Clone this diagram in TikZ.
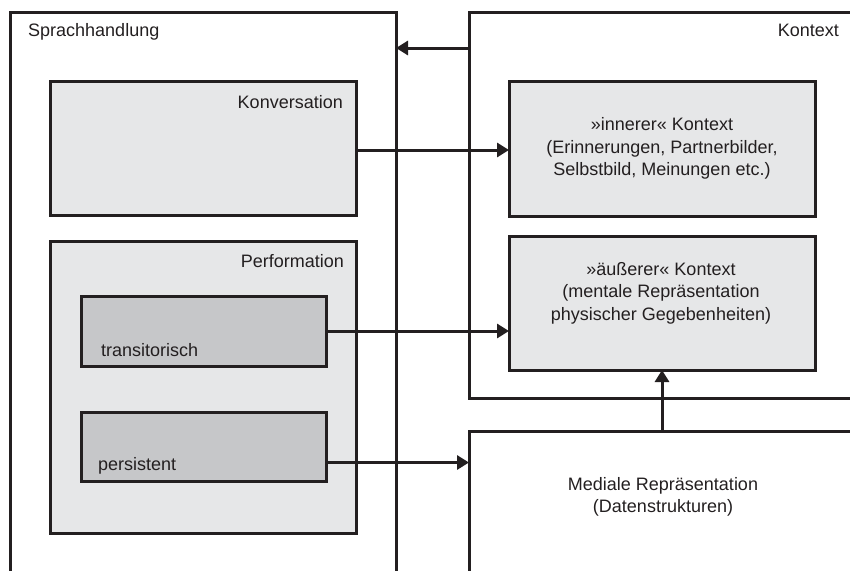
\documentclass[tikz,border=0pt]{standalone}
\usepackage{fontspec}
\setmainfont{Liberation Sans}
\usetikzlibrary{arrows.meta}
\definecolor{linegray}{HTML}{231F20}
\definecolor{lightfill}{HTML}{E6E7E8}
\definecolor{darkfill}{HTML}{C6C7C9}
\begin{document}
\begin{tikzpicture}[x=1pt,y=-1pt,
    box/.style={draw=linegray,line width=3pt,anchor=north west,inner sep=0pt,outer sep=0pt},
    txt/.style={text=linegray,font=\fontsize{18}{22.5}\selectfont,align=center,inner sep=0pt},
    arr/.style={draw=linegray,line width=3pt,-{Triangle[length=12pt,width=14pt]}}]
    \useasboundingbox (0,0) rectangle (850,570);
    \clip (0,0) rectangle (850,570);
    \node[box,minimum width=386pt,minimum height=600pt] (sprach) at (10,12) {};
    \node[box,minimum width=431pt,minimum height=386pt] (kontext) at (469,12) {};
    \node[box,minimum width=431pt,minimum height=200pt] (medial) at (469,431) {};
    \node[box,fill=lightfill,minimum width=306pt,minimum height=134pt] (konv) at (50,81) {};
    \node[box,fill=lightfill,minimum width=306pt,minimum height=292pt] (perf) at (50,241) {};
    \node[box,fill=darkfill,minimum width=245pt,minimum height=70pt] (trans) at (81,296) {};
    \node[box,fill=darkfill,minimum width=245pt,minimum height=69pt] (pers) at (81,412) {};
    \node[box,fill=lightfill,minimum width=306pt,minimum height=135pt,txt] (inner) at (509,81)
        {»innerer« Kontext\\(Erinnerungen, Partnerbilder,\\Selbstbild, Meinungen etc.)};
    \node[box,fill=lightfill,minimum width=306pt,minimum height=134pt] (aeusser) at (509,236) {};
    \node[txt,anchor=base west] (sprachlabel) at (28,36) {Sprachhandlung};
    \node[txt,anchor=base east] (kontextlabel) at (839,36) {Kontext};
    \node[txt,anchor=base east] (konvlabel) at (343,108) {Konversation};
    \node[txt,anchor=base east] (perflabel) at (344,267) {Performation};
    \node[txt,anchor=base west] (translabel) at (101,356) {transitorisch};
    \node[txt,anchor=base west] (perslabel) at (98,470) {persistent};
    \node[txt] (aeusserlabel) at (661,293)
        {»äußerer« Kontext\\(mentale Repräsentation\\physischer Gegebenheiten)};
    \node[txt] (mediallabel) at (663,497) {Mediale Repräsentation\\(Datenstrukturen)};
    \draw[arr] ([yshift=-36pt]kontext.north west) coordinate (kin) -- (kin -| sprach.east);
    \draw[arr] ([yshift=-2pt]konv.east) coordinate (kout) -- (kout -| inner.west);
    \draw[arr] (trans.east) -- (trans.east -| aeusser.west);
    \draw[arr] ([yshift=-16pt]pers.east) coordinate (pout) -- (pout -| medial.west);
    \draw[arr] (aeusser.south |- medial.north) -- (aeusser.south);
\end{tikzpicture}
\end{document}
